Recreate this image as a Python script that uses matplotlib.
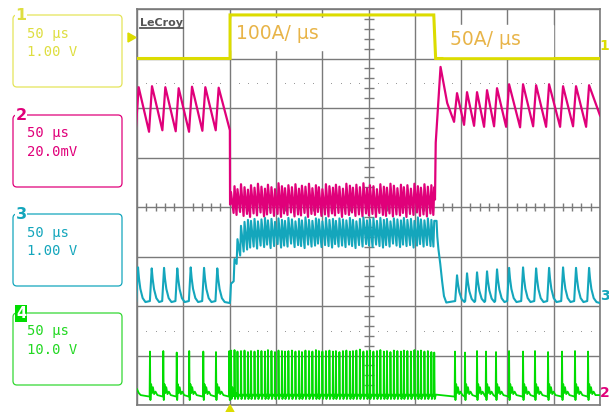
import numpy as np
import matplotlib.pyplot as plt
from matplotlib.patches import FancyBboxPatch, Rectangle, Polygon

# time axis in us (50 us/div, 10 div); levels in screen divisions (0..8)
ch1_t = [0, 100.5, 100.5, 320.5, 322.5, 500]
ch1_v = [7.0, 7.0, 7.88, 7.88, 7.0, 7.0]

# switching instants while the load is applied (dense region)
dense_t = [101.5, 105.3, 108.5, 112.3, 116.1, 119.8, 123.1, 126.9, 130.6, 134.4,
           138.2, 141.4, 145.2, 149.0, 152.8, 156.5, 159.8, 163.5, 167.3, 171.1,
           174.9, 178.1, 181.9, 185.7, 189.4, 193.2, 196.4, 200.2, 204.0, 207.8,
           211.6, 214.8, 218.6, 222.4, 226.1, 229.9, 233.2, 236.9, 240.7, 244.5,
           248.3, 251.5, 255.3, 259.1, 262.8, 266.6, 269.9, 273.7, 277.4, 281.2,
           285.0, 288.2, 292.0, 295.8, 299.6, 303.3, 306.6, 310.4, 314.1, 317.9,
           321.0]

# ch2 (magenta)
ch2_pre_t = [1.8, 16.2, 30.6, 45.0, 59.4, 73.8, 88.2]
ch2_pre_hi = [6.42, 6.44, 6.42, 6.40, 6.43, 6.42, 6.41]
ch2_pre_lo = [5.54, 5.52, 5.55, 5.53, 5.52, 5.54, 5.55]
ch2_dense_hi = [4.30, 4.42, 4.36, 4.46, 4.40, 4.35, 4.44, 4.39, 4.47, 4.41,
                4.37, 4.45, 4.40, 4.36, 4.48, 4.42, 4.38, 4.44, 4.40, 4.46,
                4.37, 4.43, 4.41, 4.47, 4.38, 4.44, 4.40, 4.36, 4.46, 4.42,
                4.39, 4.45, 4.41, 4.37, 4.47, 4.43, 4.39, 4.45, 4.40, 4.48,
                4.38, 4.44, 4.42, 4.36, 4.46, 4.41, 4.39, 4.47, 4.43, 4.38,
                4.45, 4.40, 4.44, 4.37, 4.47, 4.42, 4.39, 4.46, 4.41, 4.44,
                4.40]
ch2_dense_lo = [4.05, 3.88, 3.84, 3.90, 3.82, 3.86, 3.80, 3.87, 3.83, 3.89,
                3.81, 3.85, 3.88, 3.82, 3.86, 3.80, 3.87, 3.84, 3.89, 3.81,
                3.85, 3.83, 3.88, 3.80, 3.86, 3.84, 3.90, 3.82, 3.85, 3.81,
                3.87, 3.83, 3.88, 3.80, 3.86, 3.84, 3.89, 3.82, 3.85, 3.81,
                3.87, 3.83, 3.86, 3.80, 3.88, 3.84, 3.82, 3.87, 3.81, 3.85,
                3.83, 3.88, 3.80, 3.86, 3.84, 3.89, 3.82, 3.85, 3.81, 3.87,
                3.84]
ch2_kick_t = [321.8, 322.6, 327.8, 335.0]
ch2_kick_v = [4.15, 5.30, 6.83, 6.10]
ch2_post_t = [345.6, 356.4, 367.2, 378.0, 388.8, 401.8, 416.9, 431.0, 445.0,
              460.1, 474.1, 488.2]
ch2_post_hi = [6.30, 6.32, 6.32, 6.36, 6.40, 6.48, 6.48, 6.46, 6.48, 6.44,
               6.44, 6.46]
ch2_post_lo = [5.72, 5.66, 5.64, 5.62, 5.63, 5.62, 5.61, 5.63, 5.62, 5.62,
               5.63, 5.62]

# ch3 (cyan)
ch3_base = 2.06
ch3_pre_t = [1.1, 15.9, 29.2, 43.5, 58.0, 72.4, 86.7]
ch3_pre_pk = [2.78, 2.76, 2.77, 2.76, 2.78, 2.77, 2.76]
ch3_dense_hi = [2.45, 2.95, 3.35, 3.62, 3.70, 3.74, 3.72, 3.76, 3.71, 3.75,
                3.78, 3.73, 3.76, 3.70, 3.77, 3.74, 3.72, 3.78, 3.75, 3.71,
                3.76, 3.73, 3.79, 3.74, 3.72, 3.77, 3.75, 3.71, 3.78, 3.74,
                3.76, 3.72, 3.77, 3.75, 3.73, 3.78, 3.74, 3.71, 3.76, 3.79,
                3.73, 3.75, 3.77, 3.72, 3.78, 3.74, 3.76, 3.71, 3.77, 3.75,
                3.73, 3.78, 3.74, 3.76, 3.72, 3.79, 3.75, 3.73, 3.77, 3.74,
                3.72]
ch3_dense_lo = [2.12, 2.50, 2.85, 3.02, 3.10, 3.14, 3.18, 3.20, 3.16, 3.22,
                3.19, 3.24, 3.17, 3.21, 3.25, 3.18, 3.22, 3.20, 3.26, 3.19,
                3.23, 3.21, 3.17, 3.24, 3.20, 3.22, 3.26, 3.19, 3.23, 3.21,
                3.18, 3.25, 3.20, 3.22, 3.19, 3.24, 3.21, 3.17, 3.23, 3.20,
                3.25, 3.22, 3.19, 3.24, 3.21, 3.18, 3.23, 3.20, 3.26, 3.22,
                3.19, 3.24, 3.21, 3.23, 3.18, 3.22, 3.25, 3.20, 3.23, 3.21,
                3.20]
ch3_fall_t = [323.5, 324.3, 325.5, 327.5, 329.5, 331.5, 334.0]
ch3_fall_v = [3.72, 3.40, 3.15, 2.85, 2.50, 2.20, 2.07]
ch3_post_t = [345.6, 356.4, 367.2, 378.0, 388.8, 401.8, 416.9, 431.0, 445.0,
              460.1, 474.1, 488.2]
ch3_post_pk = [2.62, 2.66, 2.68, 2.70, 2.74, 2.77, 2.78, 2.76, 2.77, 2.78,
               2.77, 2.77]

# ch4 (green)
ch4_base = 0.20
ch4_dense_base = 0.18
ch4_pre_t = [14.0, 28.4, 42.9, 56.4, 71.6, 85.3, 99.7]
ch4_pre_top = [1.08, 1.09, 1.06, 1.09, 1.08, 1.07, 1.09]
ch4_dense_top = [1.10, 1.11, 1.08, 1.09, 1.10, 1.07, 1.09, 1.08, 1.10, 1.09,
                 1.08, 1.11, 1.09, 1.07, 1.10, 1.09, 1.08, 1.09, 1.10, 1.08,
                 1.09, 1.07, 1.10, 1.09, 1.08, 1.11, 1.09, 1.08, 1.09, 1.10,
                 1.08, 1.09, 1.07, 1.09, 1.10, 1.08, 1.09, 1.10, 1.12, 1.08,
                 1.09, 1.10, 1.08, 1.09, 1.11, 1.08, 1.09, 1.07, 1.10, 1.09,
                 1.08, 1.10, 1.09, 1.08, 1.11, 1.09, 1.10, 1.08, 1.09, 1.07,
                 1.06]
ch4_post_t = [343.4, 354.2, 367.2, 376.9, 387.7, 401.8, 416.9, 429.8, 443.9,
              459.0, 473.0, 487.1]
ch4_post_top = [1.08, 1.06, 1.09, 1.08, 1.07, 1.09, 1.08, 1.09, 1.07, 1.08,
                1.09, 1.08]

panel_labels = ["1", "2", "3", "4"]
panel_lines = [("50 µs", "1.00 V"), ("50 µs", "20.0mV"),
               ("50 µs", "1.00 V"), ("50 µs", "10.0 V")]

YEL = '#dcdc00'
MAG = '#e0007a'
CYA = '#14a6bc'
GRN = '#00dc00'
GRID = '#7a7a7a'


def teeth(ts, hi, lo, rise):
    """sawtooth: fast rise to each peak, linear fall to the next trough"""
    x, y = [], []
    for t, h, l in zip(ts, hi, lo):
        x += [t - rise, t]
        y += [l, h]
    return x, y


def pulses(ts, pk, base):
    x, y = [], []
    for t, p in zip(ts, pk):
        a = p - base
        x += [t - 2.0, t - 0.6, t, t + 1.0, t + 2.5, t + 5.0, t + 8.0]
        y += [base + 0.04, base + 0.75 * a, p, base + 0.7 * a, base + 0.4 * a,
              base + 0.14 * a, base + 0.02]
    return x, y


def spikes(ts, tops, base, ring=True):
    x, y = [], []
    for t, top in zip(ts, tops):
        if ring:
            x += [t - 0.4, t, t + 0.5, t + 1.3, t + 2.2, t + 3.2, t + 4.5, t + 6.0, t + 8.0]
            y += [base - 0.03, top, base - 0.1, base + 0.22, base + 0.04,
                  base + 0.16, base + 0.02, base + 0.07, base]
        else:
            x += [t - 0.3, t, t + 0.5, t + 1.8]
            y += [base, top, base - 0.06, base + 0.03]
    return x, y


fig = plt.figure(figsize=(6.09, 4.12), dpi=100)
ax = fig.add_axes([137 / 609, 7 / 412, 463 / 609, 396 / 412])
ax.set_xlim(0, 500)
ax.set_ylim(0, 8)
ax.set_xticks(np.arange(0, 501, 50))
ax.set_yticks(np.arange(0, 9, 1))
ax.grid(color=GRID, lw=1.0)
ax.tick_params(length=0, labelbottom=False, labelleft=False)
for s in ax.spines.values():
    s.set_color(GRID)
    s.set_linewidth(1.2)

# graticule ticks on the centre lines and the two dotted reference lines
ys = [v for v in np.arange(0.2, 8, 0.2) if abs(v - round(v)) > 0.05]
xs = [v for v in np.arange(10, 500, 10) if v % 50 != 0]
ax.plot([250] * len(ys), ys, ls='none', marker='_', ms=7, mew=1.0, color=GRID, zorder=2)
ax.plot(xs, [4] * len(xs), ls='none', marker='|', ms=6, mew=1.0, color=GRID, zorder=2)
for yy in (1.5, 6.5):
    ax.plot(xs, [yy] * len(xs), ls='none', marker='s', ms=0.7, mew=0,
            color='#9a9a9a', zorder=2)

# ch1
ax.plot(ch1_t, ch1_v, color=YEL, lw=2.2, zorder=4, solid_joinstyle='miter')

# ch2
x1, y1 = teeth(ch2_pre_t, ch2_pre_hi, ch2_pre_lo, 3.2)
x2, y2 = teeth(dense_t, ch2_dense_hi, ch2_dense_lo, 1.0)
x3, y3 = teeth(ch2_post_t, ch2_post_hi, ch2_post_lo, 3.2)
ch2_x = x1 + [100.3] + x2 + ch2_kick_t + x3 + [500]
ch2_y = y1 + [5.55] + y2 + ch2_kick_v + y3 + [5.85]
ax.plot(ch2_x, ch2_y, color=MAG, lw=1.6, zorder=5)

# ch3
x1, y1 = pulses(ch3_pre_t, ch3_pre_pk, ch3_base)
x2, y2 = teeth(dense_t, ch3_dense_hi, ch3_dense_lo, 0.9)
x3, y3 = pulses(ch3_post_t, ch3_post_pk, ch3_base)
ch3_x = x1 + [100.3] + x2 + ch3_fall_t + x3 + [500]
ch3_y = y1 + [ch3_base] + y2 + ch3_fall_v + y3 + [ch3_base]
ax.plot(ch3_x, ch3_y, color=CYA, lw=1.5, zorder=6)

# ch4
x1, y1 = spikes(ch4_pre_t, ch4_pre_top, ch4_base)
x2, y2 = spikes(dense_t, ch4_dense_top, ch4_dense_base, ring=False)
x3, y3 = spikes(ch4_post_t, ch4_post_top, ch4_base)
ch4_x = [0, 2.0, 4.0] + x1 + x2 + x3 + [500]
ch4_y = [0.32, 0.24, ch4_base] + y1 + y2 + y3 + [ch4_base]
ax.plot(ch4_x, ch4_y, color=GRN, lw=1.3, zorder=5)

# overlay in pixel coordinates
ov = fig.add_axes([0, 0, 1, 1], zorder=3)
ov.set_xlim(0, 609)
ov.set_ylim(412, 0)
ov.axis('off')
ov.patch.set_alpha(0)

# rate annotations
ov.add_patch(Rectangle((232, 18), 108, 32, color='white', zorder=1))
ov.text(236, 38.5, "100A/ µs", color='#e8b448', fontsize=13.5, va='baseline', zorder=2)
ov.add_patch(Rectangle((443, 25), 110, 31, color='white', zorder=1))
ov.text(450, 45, "50A/ µs", color='#e8b448', fontsize=13.5, va='baseline', zorder=2)

# logo
ov.text(140, 25.5, "LeCroy", color='#555555', fontsize=8, fontweight='bold', va='baseline')
ov.plot([140, 183], [28, 28], color='#555555', lw=1.3)

# channel panels on the left
box_cols = ['#e4e45a', MAG, CYA, '#33d833']
txt_cols = ['#dede40', MAG, CYA, '#22d822']
for i, top in enumerate([15, 115, 214, 313]):
    ov.add_patch(FancyBboxPatch((13, top), 109, 72,
                                boxstyle="round,pad=0,rounding_size=4",
                                fc='none', ec=box_cols[i], lw=0.9))
    if i == 3:
        ov.text(21, top + 0.5, panel_labels[i], color='white', fontsize=10.5,
                fontweight='bold', ha='center', va='center',
                bbox=dict(fc=GRN, ec='none', pad=0.6))
    else:
        ov.text(21, top, panel_labels[i], color=txt_cols[i], fontsize=11.5,
                fontweight='bold', ha='center', va='center',
                bbox=dict(fc='white', ec='none', pad=0.5))
    ov.text(27, top + 22.5, panel_lines[i][0], color=txt_cols[i], fontsize=10,
            family='DejaVu Sans Mono', va='baseline')
    ov.text(27, top + 41, panel_lines[i][1], color=txt_cols[i], fontsize=10,
            family='DejaVu Sans Mono', va='baseline')

# markers around the graticule
ov.add_patch(Polygon([(128, 33), (128, 42), (136, 37.5)], color=YEL))
ov.add_patch(Polygon([(226, 412), (234, 412), (230, 405)], color=YEL))
ov.text(604.5, 46, "1", color=YEL, fontsize=10, fontweight='bold', ha='center', va='center')
ov.text(605, 296, "3", color=CYA, fontsize=10, fontweight='bold', ha='center', va='center')
ov.text(605, 393, "2", color=MAG, fontsize=10, fontweight='bold', ha='center', va='center')

fig.savefig('out.png', dpi=100)
